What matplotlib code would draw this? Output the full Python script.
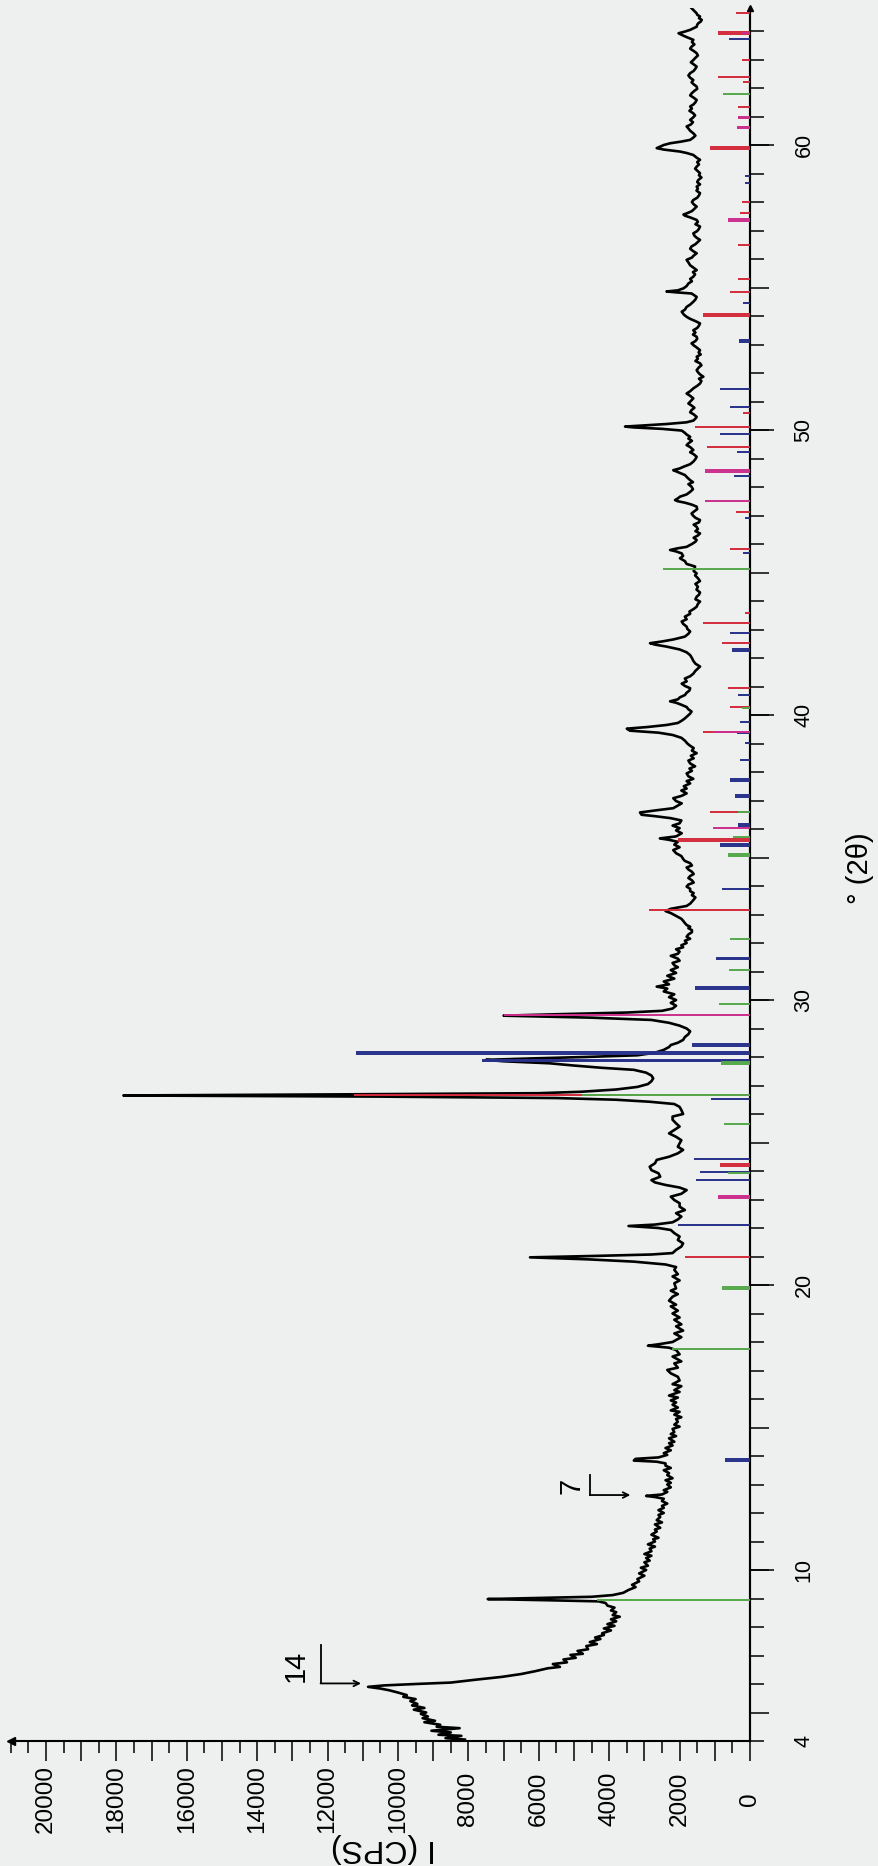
import numpy as np
import matplotlib.pyplot as plt
from matplotlib.ticker import MultipleLocator

plt.rcParams['font.family'] = ['Liberation Sans', 'DejaVu Sans']

# ---- diffractogram, (2-theta in degrees, counts per second) ----
scan_4_10 = [
    (4.05, 8100), (4.10, 8650), (4.18, 8200), (4.22, 8850), (4.30, 8500), (4.36, 9050),
    (4.45, 8250), (4.50, 8900), (4.57, 8800), (4.66, 9250), (4.71, 8950), (4.80, 9300),
    (4.86, 9150), (4.95, 9350), (5.00, 9200), (5.10, 9550), (5.16, 9250), (5.25, 9600),
    (5.30, 9450), (5.40, 9650), (5.47, 9500), (5.55, 9850), (5.61, 9750), (5.70, 10000),
    (5.78, 10250), (5.84, 10500), (5.90, 10850), (5.95, 10400), (6.00, 9500), (6.05, 8500),
    (6.15, 7800), (6.25, 7050), (6.35, 6500), (6.45, 6100), (6.55, 5750), (6.60, 5400),
    (6.70, 5600), (6.76, 5200), (6.86, 5300), (6.92, 4950), (7.02, 5100), (7.06, 4750),
    (7.16, 4900), (7.22, 4600), (7.33, 4650), (7.40, 4350), (7.47, 4550), (7.58, 4250),
    (7.63, 4400), (7.72, 4150), (7.78, 4200), (7.88, 3950), (7.95, 4150), (8.04, 3850),
    (8.10, 4050), (8.20, 3800), (8.27, 3950), (8.36, 3700), (8.42, 3900), (8.52, 3800),
    (8.58, 3950), (8.68, 3850), (8.75, 4050), (8.84, 4100), (8.90, 4300), (8.94, 5800),
    (8.98, 7450), (9.02, 6000), (9.06, 4500), (9.12, 3900), (9.20, 3600), (9.30, 3450),
    (9.40, 3250), (9.48, 3350), (9.60, 3150), (9.68, 3200), (9.80, 3000), (9.88, 3150),
]
scan_10_16 = [
    (10.00, 2950), (10.08, 3100), (10.15, 2900), (10.27, 3000), (10.33, 2850), (10.42, 2950),
    (10.50, 2800), (10.56, 3000), (10.66, 2800), (10.75, 2850), (10.82, 2700), (10.90, 2900),
    (11.00, 2700), (11.08, 2750), (11.13, 2600), (11.24, 2800), (11.35, 2650), (11.42, 2700),
    (11.48, 2550), (11.60, 2700), (11.67, 2500), (11.75, 2650), (11.86, 2550), (11.93, 2600),
    (12.00, 2450), (12.10, 2600), (12.18, 2450), (12.25, 2500), (12.33, 2350), (12.42, 2500),
    (12.50, 2450), (12.56, 2700), (12.60, 2950), (12.65, 2500), (12.74, 2350), (12.80, 2450),
    (12.90, 2250), (13.00, 2350), (13.06, 2250), (13.15, 2400), (13.22, 2200), (13.33, 2350),
    (13.40, 2300), (13.50, 2450), (13.58, 2250), (13.66, 2400), (13.74, 2400), (13.80, 2650),
    (13.84, 3300), (13.90, 3250), (13.95, 2600), (14.04, 2350), (14.10, 2450), (14.20, 2250),
    (14.28, 2400), (14.37, 2200), (14.45, 2300), (14.50, 2150), (14.62, 2300), (14.70, 2100),
    (14.77, 2250), (14.84, 2150), (14.95, 2200), (15.03, 2000), (15.10, 2150), (15.20, 2050),
    (15.30, 2100), (15.36, 1950), (15.45, 2150), (15.55, 2000), (15.60, 2250), (15.70, 2050),
    (15.80, 2200), (15.88, 2100), (15.95, 2250),
]
scan_16_27 = [
    (16.05, 2050), (16.12, 2300), (16.25, 2000), (16.31, 2150), (16.45, 1950), (16.52, 2200),
    (16.65, 2000), (16.78, 2050), (16.90, 2250), (17.02, 2350), (17.10, 2050), (17.25, 2150),
    (17.32, 1950), (17.49, 2200), (17.57, 2000), (17.72, 2100), (17.80, 2300), (17.87, 2900),
    (17.92, 2600), (18.00, 2200), (18.07, 2100), (18.17, 1950), (18.30, 2150), (18.40, 1900),
    (18.55, 2100), (18.62, 1950), (18.78, 2150), (18.86, 2000), (19.00, 2200), (19.10, 2050),
    (19.25, 2250), (19.31, 2100), (19.45, 2300), (19.59, 2200), (19.68, 2050), (19.80, 2250),
    (19.88, 2100), (20.06, 2150), (20.16, 2000), (20.30, 2200), (20.38, 2050), (20.53, 2150),
    (20.63, 2100), (20.72, 2400), (20.82, 3300), (20.90, 4600), (20.97, 6250), (21.02, 4400),
    (21.07, 2800), (21.12, 2200), (21.23, 2100), (21.35, 1950), (21.46, 1900), (21.58, 2050),
    (21.70, 2000), (21.82, 2150), (21.93, 2250), (22.00, 2600), (22.07, 3450), (22.12, 2700),
    (22.20, 2200), (22.30, 2050), (22.40, 1950), (22.52, 2100), (22.63, 1850), (22.75, 2000),
    (22.87, 2000), (22.98, 2150), (23.10, 2250), (23.20, 1950), (23.33, 1800), (23.42, 2000),
    (23.51, 2400), (23.60, 2700), (23.68, 2800), (23.80, 2550), (23.92, 2600), (24.03, 2800),
    (24.15, 2850), (24.27, 2700), (24.39, 2650), (24.50, 2300), (24.62, 2050), (24.74, 1900),
    (24.85, 2050), (24.97, 2000), (25.08, 1950), (25.20, 2100), (25.32, 2300), (25.44, 2150),
    (25.56, 2000), (25.67, 2100), (25.80, 2200), (25.91, 2200), (26.00, 1900), (26.14, 1950),
    (26.25, 2000), (26.35, 2150), (26.43, 2850), (26.50, 3800), (26.56, 5500), (26.61, 10500),
    (26.65, 17800), (26.69, 11500), (26.73, 6000), (26.78, 4800), (26.86, 3800), (26.95, 3200),
]
scan_27_35 = [
    (27.05, 2900), (27.15, 2800), (27.25, 2750), (27.35, 2800), (27.45, 2950), (27.55, 3300),
    (27.62, 4200), (27.70, 5000), (27.78, 5700), (27.85, 7000), (27.90, 7500), (27.95, 6200),
    (28.00, 4700), (28.06, 3200), (28.15, 2700), (28.25, 2450), (28.35, 2300), (28.42, 2250),
    (28.50, 2050), (28.60, 1900), (28.70, 1850), (28.80, 1750), (28.90, 1700), (29.00, 1800),
    (29.10, 2000), (29.20, 2300), (29.30, 2800), (29.38, 4500), (29.45, 7000), (29.50, 5500),
    (29.56, 3500), (29.62, 2500), (29.70, 2200), (29.80, 2100), (29.90, 2250), (30.00, 2100),
    (30.10, 2300), (30.20, 2150), (30.30, 2450), (30.40, 2350), (30.47, 2650), (30.55, 2300),
    (30.65, 2450), (30.75, 2150), (30.85, 2350), (30.95, 2100), (31.05, 2250), (31.15, 2050),
    (31.22, 2150), (31.30, 2200), (31.38, 2000), (31.45, 2050), (31.55, 2250), (31.62, 2050),
    (31.70, 2000), (31.78, 2100), (31.85, 1900), (31.92, 1950), (32.00, 1800), (32.08, 1850),
    (32.15, 1700), (32.22, 1800), (32.30, 1750), (32.38, 1650), (32.45, 1650), (32.52, 1750),
    (32.57, 1700), (32.63, 1800), (32.70, 1850), (32.78, 1900), (32.85, 1950), (32.95, 2100),
    (33.05, 2250), (33.12, 2400), (33.20, 2250), (33.30, 1800), (33.38, 1700), (33.45, 1650),
    (33.52, 1600), (33.60, 1550), (33.68, 1650), (33.75, 1600), (33.82, 1700), (33.90, 1700),
    (33.98, 1800), (34.05, 1750), (34.12, 1600), (34.20, 1650), (34.28, 1750), (34.35, 1700),
    (34.42, 1600), (34.50, 1650), (34.58, 1750), (34.65, 1800), (34.72, 1650), (34.80, 1700),
    (34.88, 1850), (34.95, 1900),
]
scan_35_45 = [
    (35.05, 1950), (35.15, 2100), (35.26, 2180), (35.36, 2000), (35.45, 2150), (35.55, 2050),
    (35.62, 2300), (35.67, 2560), (35.74, 2100), (35.85, 1940), (35.95, 2100), (36.03, 2000),
    (36.12, 2200), (36.20, 2000), (36.30, 1950), (36.38, 2250), (36.45, 2700), (36.50, 3080),
    (36.58, 3125), (36.65, 2700), (36.73, 2180), (36.82, 2050), (36.90, 1940), (36.98, 2100),
    (37.08, 2180), (37.16, 1950), (37.25, 1800), (37.35, 1950), (37.42, 1800), (37.50, 1880),
    (37.60, 1700), (37.68, 1800), (37.76, 1610), (37.85, 1750), (37.95, 1800), (38.04, 1650),
    (38.12, 1720), (38.20, 1560), (38.30, 1700), (38.40, 1750), (38.48, 1600), (38.57, 1680),
    (38.66, 1515), (38.75, 1650), (38.84, 1600), (38.92, 1700), (39.00, 1780), (39.10, 1850),
    (39.20, 1950), (39.30, 2200), (39.38, 2600), (39.45, 3410), (39.52, 3500), (39.58, 2900),
    (39.65, 2370), (39.72, 2050), (39.80, 1940), (39.88, 1850), (39.96, 1780), (40.05, 1700),
    (40.12, 1660), (40.20, 1750), (40.28, 1800), (40.36, 1950), (40.43, 2100), (40.48, 2270),
    (40.55, 2050), (40.62, 1990), (40.70, 1850), (40.78, 1800), (40.86, 1720), (40.94, 1700),
    (41.02, 1850), (41.10, 1940), (41.18, 1800), (41.28, 1850), (41.36, 1700), (41.45, 1610),
    (41.55, 1550), (41.63, 1480), (41.70, 1420), (41.80, 1550), (41.90, 1610), (42.00, 1650),
    (42.10, 1700), (42.20, 1800), (42.30, 2000), (42.40, 2370), (42.47, 2700), (42.52, 2840),
    (42.58, 2500), (42.65, 2180), (42.75, 1850), (42.85, 1750), (42.93, 1700), (43.02, 1780),
    (43.10, 1800), (43.20, 1900), (43.28, 1940), (43.36, 1800), (43.45, 1850), (43.55, 1700),
    (43.63, 1720), (43.72, 1600), (43.80, 1515), (43.90, 1480), (43.98, 1420), (44.06, 1550),
    (44.15, 1515), (44.22, 1450), (44.30, 1420), (44.40, 1520), (44.50, 1480), (44.60, 1550),
    (44.70, 1420), (44.80, 1480), (44.90, 1560), (44.97, 1515), (45.05, 1600), (45.12, 1580),
    (45.21, 1560), (45.30, 1800),
]
scan_45_55 = [
    (45.40, 1850), (45.50, 1990), (45.58, 1900), (45.67, 1940), (45.74, 2100), (45.79, 2270),
    (45.85, 2050), (45.90, 1800), (46.00, 1650), (46.08, 1550), (46.14, 1515), (46.22, 1600),
    (46.30, 1480), (46.37, 1420), (46.45, 1550), (46.52, 1480), (46.60, 1515), (46.68, 1600),
    (46.76, 1450), (46.84, 1420), (46.92, 1550), (47.00, 1620), (47.07, 1660), (47.15, 1580),
    (47.22, 1500), (47.31, 1515), (47.38, 1650), (47.45, 1850), (47.50, 2050), (47.54, 2130),
    (47.60, 2050), (47.66, 1990), (47.74, 1800), (47.83, 1700), (47.92, 1620), (48.01, 1660),
    (48.10, 1750), (48.17, 1620), (48.24, 1700), (48.33, 1780), (48.42, 1850), (48.50, 2000),
    (48.55, 2100), (48.59, 2180), (48.65, 2000), (48.71, 1890), (48.80, 1700), (48.89, 1610),
    (48.98, 1550), (49.06, 1515), (49.15, 1600), (49.22, 1700), (49.30, 1610), (49.40, 1700),
    (49.47, 1800), (49.53, 1750), (49.62, 1650), (49.70, 1750), (49.76, 1700), (49.84, 1800),
    (49.90, 1850), (49.98, 1940), (50.04, 2500), (50.09, 3300), (50.12, 3550), (50.17, 2900),
    (50.21, 2370), (50.27, 1800), (50.33, 1610), (50.40, 1550), (50.46, 1515), (50.55, 1600),
    (50.62, 1700), (50.70, 1660), (50.78, 1580), (50.85, 1650), (50.93, 1750), (51.02, 1680),
    (51.11, 1610), (51.20, 1700), (51.28, 1800), (51.36, 1700), (51.46, 1610), (51.55, 1500),
    (51.63, 1420), (51.72, 1380), (51.80, 1450), (51.87, 1325), (51.95, 1420), (52.03, 1480),
    (52.10, 1515), (52.20, 1450), (52.27, 1380), (52.34, 1420), (52.42, 1550), (52.50, 1480),
    (52.57, 1515), (52.65, 1400), (52.72, 1460), (52.80, 1420), (52.90, 1520), (52.97, 1600),
    (53.04, 1660), (53.12, 1550), (53.20, 1500), (53.27, 1515), (53.35, 1620), (53.42, 1550),
    (53.50, 1610), (53.58, 1500), (53.66, 1450), (53.74, 1420), (53.82, 1550), (53.90, 1700),
    (53.97, 1800), (54.05, 1880), (54.15, 1940), (54.22, 1850), (54.32, 1800), (54.40, 1700),
    (54.50, 1610), (54.58, 1550), (54.67, 1515), (54.74, 1600), (54.79, 1660), (54.83, 2100),
    (54.86, 2370), (54.90, 2050), (54.97, 1890), (55.05, 1800), (55.14, 1750), (55.22, 1650),
    (55.30, 1700), (55.38, 1610), (55.46, 1560), (55.54, 1620), (55.61, 1515),
]
scan_55_65 = [
    (55.70, 1610), (55.78, 1700), (55.88, 1750), (55.97, 1800), (56.05, 1650), (56.12, 1600),
    (56.20, 1515), (56.28, 1620), (56.36, 1700), (56.44, 1660), (56.52, 1550), (56.60, 1480),
    (56.67, 1420), (56.75, 1520), (56.82, 1580), (56.90, 1610), (56.98, 1500), (57.06, 1450),
    (57.14, 1420), (57.22, 1550), (57.30, 1480), (57.37, 1515), (57.46, 1700), (57.52, 1850),
    (57.56, 1890), (57.60, 1800), (57.68, 1650), (57.76, 1580), (57.84, 1515), (57.92, 1600),
    (58.00, 1650), (58.07, 1610), (58.15, 1500), (58.23, 1450), (58.31, 1420), (58.40, 1520),
    (58.47, 1480), (58.54, 1515), (58.62, 1420), (58.70, 1500), (58.77, 1470), (58.86, 1380),
    (58.94, 1450), (59.01, 1420), (59.10, 1500), (59.17, 1560), (59.24, 1515), (59.32, 1450),
    (59.40, 1500), (59.48, 1420), (59.56, 1520), (59.65, 1610), (59.72, 1800), (59.77, 1990),
    (59.84, 2450), (59.89, 2650), (59.94, 2560), (60.00, 2450), (60.06, 2270), (60.12, 1950),
    (60.18, 1700), (60.25, 1620), (60.33, 1550), (60.41, 1610), (60.50, 1700), (60.58, 1750),
    (60.65, 1800), (60.72, 1680), (60.80, 1620), (60.88, 1700), (60.96, 1620), (61.04, 1560),
    (61.11, 1610), (61.20, 1720), (61.28, 1650), (61.35, 1700), (61.43, 1600), (61.50, 1550),
    (61.58, 1515), (61.66, 1600), (61.74, 1700), (61.81, 1660), (61.90, 1580), (61.97, 1500),
    (62.05, 1515), (62.13, 1600), (62.20, 1660), (62.28, 1610), (62.36, 1700), (62.44, 1750),
    (62.52, 1700), (62.60, 1600), (62.68, 1550), (62.75, 1515), (62.83, 1600), (62.90, 1680),
    (62.98, 1610), (63.06, 1550), (63.14, 1480), (63.22, 1515), (63.30, 1600), (63.38, 1700),
    (63.45, 1660), (63.53, 1580), (63.61, 1650), (63.69, 1610), (63.76, 1750), (63.84, 1900),
    (63.92, 2030), (63.98, 1850), (64.04, 1700), (64.10, 1600), (64.15, 1515), (64.22, 1500),
    (64.27, 1470), (64.33, 1400), (64.39, 1370), (64.45, 1450), (64.51, 1420), (64.57, 1500),
    (64.62, 1515), (64.70, 1580), (64.74, 1610), (64.80, 1660),
]

# ---- reference patterns (stick positions and relative heights) ----
green_2t = [8.93, 17.74, 19.86, 19.94, 23.92, 25.64, 26.66, 27.75, 27.81, 29.85,
            31.07, 32.13, 35.07, 35.12, 35.73, 36.61, 40.26, 45.14, 61.79]
green_i = [4350, 2210, 800, 800, 620, 740, 4780, 820, 820, 870,
           600, 580, 615, 615, 470, 330, 240, 2460, 760]

red_2t = [20.99, 24.19, 24.25, 26.66, 33.17, 35.58, 35.64, 36.61, 39.42, 40.29,
          40.94, 42.52, 43.22, 43.57, 45.83, 47.13, 49.41, 50.11, 50.58, 54.01,
          54.07, 54.85, 55.30, 56.50, 57.60, 58.00, 59.86, 59.92, 61.35, 62.22,
          62.38, 63.00, 63.90, 63.96, 64.62]
red_i = [1850, 850, 850, 11240, 2880, 2035, 2035, 1140, 1325, 570,
         615, 800, 1325, 140, 570, 400, 1230, 1560, 190, 1325,
         1325, 570, 330, 330, 280, 240, 1140, 1140, 330, 190,
         900, 240, 900, 900, 400]

pink_2t = [23.06, 23.13, 29.47, 36.02, 39.40, 47.50, 48.52, 48.60, 57.33, 57.40,
           60.58, 60.64, 60.94, 61.00, 63.94]
pink_i = [900, 900, 7000, 1040, 1040, 1280, 1280, 1280, 615, 615,
          380, 380, 330, 330, 250]

blue_2t = [13.82, 13.88, 22.12, 23.69, 23.98, 24.42, 26.51, 27.85, 27.91, 28.12,
           28.18, 28.40, 28.45, 30.40, 30.46, 31.43, 31.49, 33.88, 35.42, 35.47,
           36.11, 36.17, 37.12, 37.18, 37.69, 37.75, 38.42, 39.01, 39.36, 39.77,
           40.70, 42.25, 42.31, 42.87, 45.70, 46.90, 48.37, 49.24, 49.86, 50.82,
           51.44, 53.08, 53.16, 54.44, 58.68, 58.90, 63.71]
blue_i = [720, 720, 2040, 1520, 1420, 1580, 1110, 7600, 7600, 11180,
          11180, 1640, 1640, 1560, 1560, 975, 975, 800, 850, 850,
          330, 330, 425, 425, 570, 570, 280, 140, 380, 280,
          330, 520, 520, 570, 190, 150, 450, 380, 850, 570,
          850, 310, 310, 190, 150, 150, 590]

scan = np.array(scan_4_10 + scan_10_16 + scan_16_27 + scan_27_35
                + scan_35_45 + scan_45_55 + scan_55_65)
two_theta, cps = scan[:, 0], scan[:, 1]

paper = '#edf0ee'
W, H = 879, 1866

fig = plt.figure(figsize=(W / 100, H / 100), dpi=100, facecolor=paper)
# intensity runs right-to-left along the bottom, 2-theta runs upward on the right
ax = fig.add_axes([10.8 / W, 1 - 1741 / H, 739.2 / W, 1732.8 / H])
ax.set_facecolor('none')
ax.set_xlim(21000, 0)
ax.set_ylim(4, 64.8)

ax.plot(cps, two_theta, color='black', lw=1.9, zorder=2)

for pos, hgt, col, z in [(blue_2t, blue_i, '#27308a', 3.0),
                         (red_2t, red_i, '#d42a3a', 3.1),
                         (pink_2t, pink_i, '#cc2e8c', 3.2),
                         (green_2t, green_i, '#55a84a', 3.3)]:
    ax.hlines(pos, 0, hgt, colors=col, lw=1.4, zorder=z)

for s in ['left', 'top']:
    ax.spines[s].set_visible(False)
for s in ['bottom', 'right']:
    ax.spines[s].set_linewidth(1.5)

# intensity axis
xt = np.arange(0, 20001, 1000)
ax.set_xticks(xt, [str(v) if v % 2000 == 0 else '' for v in xt])
ax.xaxis.set_minor_locator(MultipleLocator(500))
ax.tick_params(axis='x', which='major', direction='out', length=14.4, width=1.1,
               pad=27.4, labelsize=17.5, labelrotation=90)
ax.tick_params(axis='x', which='minor', direction='out', length=8.6, width=1.1)
for lbl in ax.get_xticklabels():
    lbl.set_va('center')
    lbl.set_ha('center')

# 2-theta axis: 1 deg and 5 deg ticks here, 10 deg ticks + labels on a secondary axis
ax.yaxis.tick_right()
ax.yaxis.set_major_locator(MultipleLocator(5))
ax.yaxis.set_minor_locator(MultipleLocator(1))
ax.tick_params(axis='y', which='major', direction='out', length=13.7, width=1.1,
               labelright=False, labelleft=False)
ax.tick_params(axis='y', which='minor', direction='out', length=10, width=1.1)

sec = ax.secondary_yaxis('right')
sec.spines['right'].set_linewidth(1.5)
yt = [4, 10, 20, 30, 40, 50, 60]
sec.set_yticks(yt, [str(v) for v in yt])
sec.tick_params(direction='out', length=17.3, width=1.1, pad=21.6,
                labelsize=15.5, labelrotation=90)
for lbl in sec.get_yticklabels():
    lbl.set_ha('center')
    lbl.set_va('center')
first = sec.yaxis.get_major_ticks()[0]
first.tick1line.set_visible(False)
first.tick2line.set_visible(False)

# arrow tips at the open ends of both axes
ax.plot([0], [0], marker='<', ms=6, color='black', transform=ax.transAxes, clip_on=False)
ax.plot([1], [1], marker='^', ms=5, color='black', transform=ax.transAxes, clip_on=False)

# basal spacing markers (14 and 7 Angstrom)
ax.text(12900, 6.63, '14', rotation=90, fontsize=21, ha='center', va='center')
ax.plot([12200, 12200], [7.37, 6.02], color='black', lw=1.3)
ax.annotate('', xy=(11050, 6.02), xytext=(12200, 6.02),
            arrowprops=dict(arrowstyle='->', lw=1.3, color='black', shrinkA=0, shrinkB=0))
ax.text(5060, 12.95, '7', rotation=90, fontsize=21, ha='center', va='center')
ax.plot([4550, 4550], [13.33, 12.63], color='black', lw=1.3)
ax.annotate('', xy=(3400, 12.63), xytext=(4550, 12.63),
            arrowprops=dict(arrowstyle='->', lw=1.3, color='black', shrinkA=0, shrinkB=0))

# axis titles
fig.text(383 / W, 1 - 1848 / H, 'I (CPS)', rotation=180, fontsize=23,
         ha='center', va='center')
fig.text(860 / W, 1 - 868 / H, '° (2θ)', rotation=90, fontsize=21,
         ha='center', va='center')

fig.savefig('out.png', dpi=100, facecolor=fig.get_facecolor())
